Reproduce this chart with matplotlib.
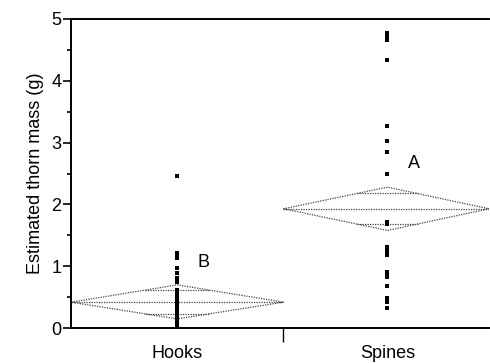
import matplotlib
matplotlib.use("Agg")
import matplotlib.pyplot as plt

plt.rcParams['font.family'] = ['Liberation Sans', 'DejaVu Sans']

categories = ["Hooks", "Spines"]
# category x-extent (proportional widths) on a 0..1 axis
cat_left = [0.0, 0.508]
cat_right = [0.508, 1.0]
cat_center = [0.254, 0.757]
means = [0.42, 1.93]
ci_upper = [0.70, 2.28]
ci_lower = [0.15, 1.58]
letters = ["B", "A"]
letter_y = [0.92, 2.52]

hooks_vals = [2.46, 1.21, 1.17, 1.13, 0.97, 0.89, 0.81, 0.78, 0.75,
              0.62, 0.58, 0.55, 0.52, 0.50, 0.48, 0.45, 0.43, 0.40, 0.38,
              0.36, 0.33, 0.31, 0.29, 0.27, 0.25, 0.23, 0.21, 0.19, 0.17,
              0.15, 0.13, 0.11, 0.09, 0.07, 0.05, 0.03, 0.01]
spines_vals = [4.77, 4.73, 4.69, 4.66, 4.33, 3.27, 3.03, 2.85, 2.49, 1.72, 1.69,
               1.32, 1.29, 1.25, 1.21, 1.18, 0.91, 0.87, 0.83, 0.68,
               0.49, 0.46, 0.43, 0.32]
values = [hooks_vals, spines_vals]

fig = plt.figure(figsize=(4.9, 3.63), dpi=100)
ax = fig.add_axes([0.145, 0.096, 0.853, 0.852])
ax.set_xlim(0, 1)
ax.set_ylim(0, 5)

dot = dict(color='#444444', lw=0.9, linestyle=(0, (1, 1)))
for i in range(2):
    l, r, c = cat_left[i], cat_right[i], cat_center[i]
    m, u, lo = means[i], ci_upper[i], ci_lower[i]
    ax.plot([l, c, r, c, l], [m, u, m, lo, m], **dot)
    ax.plot([l, r], [m, m], **dot)
    off = (u - m) * 0.7071
    w = (r - l) * 0.15
    ax.plot([c - w, c + w], [m + off, m + off], **dot)
    ax.plot([c - w, c + w], [m - off, m - off], **dot)
    ax.scatter([c] * len(values[i]), values[i], s=9, marker='s', color='black',
               linewidths=0, zorder=3)
    ax.text(c + 0.063, letter_y[i], letters[i], fontsize=13, ha='center', va='bottom')

ax.set_yticks([0, 1, 2, 3, 4, 5])
ax.set_yticks([0.5, 1.5, 2.5, 3.5, 4.5], minor=True)
ax.tick_params(axis='y', which='major', length=6, width=1.2, labelsize=13, pad=1)
ax.tick_params(axis='y', which='minor', length=3, width=1.2)
ax.set_xticks([0.508])
ax.set_xticklabels([""])
ax.tick_params(axis='x', which='major', length=10, width=1, direction='out')
for i in range(2):
    ax.text(cat_center[i], -0.27, categories[i], fontsize=13, ha='center', va='top',
            transform=ax.transData)
ax.set_ylabel("Estimated thorn mass (g)", fontsize=13, labelpad=5)
for s in ax.spines.values():
    s.set_linewidth(1.4)
ax.spines['right'].set_visible(False)

fig.savefig("out.png", dpi=100)
